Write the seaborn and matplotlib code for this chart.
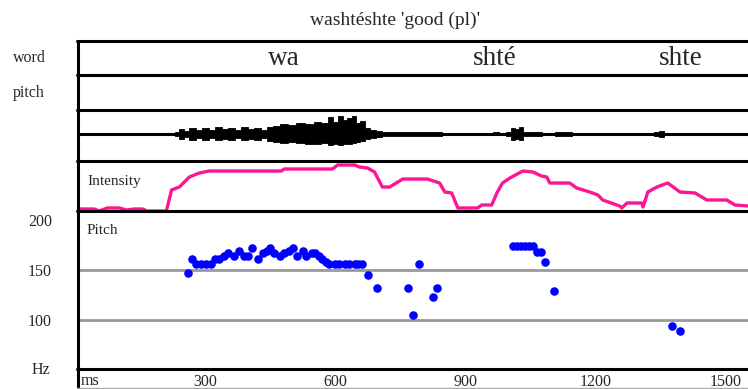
#!/usr/bin/env python3
'''praat-style display: word tier, waveform, intensity and pitch track'''

import matplotlib
matplotlib.use('Agg')
import matplotlib.pyplot as plt
from matplotlib.lines import Line2D
import seaborn as sns

# word tier
syllables = ['wa', 'shté', 'shte']
syllable_ms = [482, 968, 1395]

# waveform envelope (arbitrary amplitude)
wave_ms = [0, 228, 233, 245, 255, 270, 285, 300, 315, 330, 345, 360, 375, 390, 405, 420,
           435, 450, 464, 480, 500, 520, 540, 560, 575, 590, 600, 612, 622, 632, 643, 652,
           662, 672, 685, 700, 713, 730, 760, 790, 820, 840, 850, 960, 968, 985, 1000,
           1008, 1018, 1028, 1035, 1060, 1090, 1120, 1140, 1150, 1330, 1340, 1352, 1362,
           1372, 1551]
wave_top = [0, 0, 2, 5, 3, 6, 4, 6, 4, 7, 5, 6, 4, 7, 5, 6,
            4, 7, 8, 10, 9, 11, 10, 12, 11, 17, 12, 18, 14, 16, 18, 11,
            13, 6, 4, 3, 2, 2, 2, 2, 2, 2, 0, 0, 2, 1, 2,
            6, 5, 7, 2, 2, 1, 2, 2, 0, 0, 2, 3, 1,
            0, 0]
wave_bot = [0, 0, -2, -5, -3, -6, -4, -6, -4, -6, -5, -6, -4, -6, -5, -6,
            -4, -7, -8, -9, -8, -9, -10, -10, -9, -11, -10, -11, -10, -10, -9, -8,
            -7, -5, -4, -3, -2, -2, -2, -2, -2, -2, 0, 0, -1, -1, -2,
            -6, -5, -6, -2, -2, -1, -2, -2, 0, 0, -2, -3, -1,
            0, 0]

# intensity (dB)
int_ms = [2, 44, 55, 74, 102, 118, 136, 155, 166, 210, 222, 240, 263, 286, 309, 475, 482,
          593, 605, 644, 655, 674, 690, 708, 725, 755, 812, 840, 852, 868, 882, 928, 937,
          960, 972, 985, 1002, 1032, 1055, 1075, 1087, 1094, 1140, 1156, 1186, 1205, 1216,
          1255, 1260, 1272, 1306, 1309, 1320, 1341, 1366, 1394, 1429, 1456, 1502, 1521, 1551]
int_db = [37, 37, 35, 38, 38, 36, 37, 37, 35, 35, 56, 59, 69, 73, 75, 75, 77,
          77, 81, 81, 79, 78, 74, 59, 59, 67, 67, 63, 54, 53, 38, 38, 41,
          41, 53, 63, 68, 75, 74, 70, 69, 63, 63, 58, 54, 51, 46,
          40, 38, 43, 43, 39, 54, 59, 63, 54, 53, 46, 46, 41, 40]

# pitch track (Hz)
pitch_ms = [261, 270, 279, 291, 302, 314, 323, 332, 342, 353, 367, 378, 390, 399, 408, 422,
            432, 441, 450, 459, 471, 482, 492, 501, 512, 524, 533, 545, 552, 561, 570, 579,
            586, 598, 609, 621, 632, 644, 653, 662, 674, 695, 766, 778, 792, 824, 835,
            1009, 1018, 1027, 1036, 1045, 1055, 1064, 1074, 1083, 1104, 1375, 1394]
pitch_hz = [147, 161, 156, 156, 156, 156, 161, 161, 164, 167, 164, 169, 164, 164, 172, 161,
            167, 169, 172, 167, 164, 167, 169, 172, 164, 169, 164, 167, 167, 164, 161, 158,
            156, 156, 156, 156, 156, 156, 156, 156, 145, 132, 132, 105, 156, 123, 132,
            174, 174, 174, 174, 174, 174, 168, 168, 158, 129, 94, 89]

x_ticks = [300, 600, 900, 1200, 1500]
hz_ticks = [100, 150, 200]
title = "washtéshte 'good (pl)'"

sns.set_style('white')
plt.rcParams['font.family'] = ['Liberation Serif', 'DejaVu Serif']

W, H = 748, 389
fig = plt.figure(figsize=(W / 100, H / 100), dpi=100)


def fy(y):
    return 1 - y / H


def rect(top, bottom):
    return [77 / W, 1 - bottom / H, (W - 77) / W, (bottom - top) / H]


XLIM = (4, 1551)
rows = [40.5, 75, 109.7, 160.5, 211.3, 368.7]

ax_word = fig.add_axes(rect(rows[0], rows[1]))
ax_tone = fig.add_axes(rect(rows[1], rows[2]))
ax_wave = fig.add_axes(rect(rows[2], rows[3]))
ax_int = fig.add_axes(rect(rows[3], rows[4]))
ax_pitch = fig.add_axes(rect(rows[4], rows[5]))

for ax in [ax_word, ax_tone, ax_wave, ax_int]:
    ax.set_xlim(*XLIM)
    ax.set_axis_off()

# word tier
ax_word.set_ylim(0, 1)
for s, t in zip(syllables, syllable_ms):
    ax_word.text(t, 0.3, s, ha='center', va='baseline', fontsize=19.5)

# waveform
ax_wave.set_ylim(-26.5, 24.3)
ax_wave.fill_between(wave_ms, wave_bot, wave_top, step='mid', color='black',
                     lw=0.6, edgecolor='black')
ax_wave.axhline(0, color='black', lw=2.2)

# intensity
ax_int.set_ylim(34.7, 85.5)
sns.lineplot(x=int_ms, y=int_db, ax=ax_int, color='#ff1493', linewidth=2.4)
ax_int.set_axis_off()

# pitch
ax_pitch.set_xlim(*XLIM)
ax_pitch.set_ylim(51.3, 208.7)
for h in [100, 150]:
    ax_pitch.axhline(h, color='#999999', lw=2, zorder=1)
sns.scatterplot(x=pitch_ms, y=pitch_hz, ax=ax_pitch, color='#0000ff', s=38,
                linewidth=0, zorder=3)
for sp in ax_pitch.spines.values():
    sp.set_visible(False)
ax_pitch.set_xticks(x_ticks)
ax_pitch.set_xticklabels([str(t) for t in x_ticks])
ax_pitch.tick_params(axis='x', direction='in', length=8, width=1.8, color='#888888',
                     labelsize=11.5, pad=4)
ax_pitch.set_yticks(hz_ticks)
ax_pitch.set_yticklabels([str(h) for h in hz_ticks])
ax_pitch.tick_params(axis='y', length=0, labelsize=11.5, pad=18)
ax_pitch.set_xlabel('')
ax_pitch.set_ylabel('')

# frame lines
for y in rows:
    fig.add_artist(Line2D([77 / W, 1], [fy(y), fy(y)], color='black', lw=2.2))
fig.add_artist(Line2D([77.8 / W, 77.8 / W], [fy(rows[0]), 0], color='black', lw=2.2))
fig.add_artist(Line2D([77 / W, 1], [fy(388), fy(388)], color='#aaaaaa', lw=1))

# labels
fig.text(395 / W, fy(20), title, ha='center', va='center', fontsize=14)
fig.text(13 / W, fy(58), 'word', ha='left', va='center', fontsize=11.5)
fig.text(13 / W, fy(93), 'pitch', ha='left', va='center', fontsize=11.5)
fig.text(50 / W, fy(370), 'Hz', ha='right', va='center', fontsize=11.5)
fig.text(81 / W, fy(381), 'ms', ha='left', va='center', fontsize=11.5)
fig.text(87 / W, fy(181), 'Intensity', ha='left', va='center', fontsize=11)
fig.text(87 / W, fy(231), 'Pitch', ha='left', va='center', fontsize=11)

fig.savefig('out.png', dpi=100)
